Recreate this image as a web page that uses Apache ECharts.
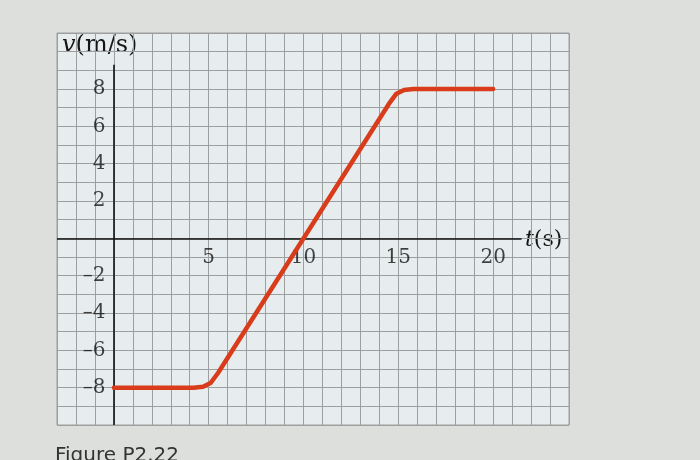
<!DOCTYPE html>
<html>
<head>
<meta charset="utf-8">
<script src="https://cdn.jsdelivr.net/npm/echarts@6/dist/echarts.min.js"></script>
<style>
html,body{margin:0;padding:0;background:#dcdfdc;}
#abc{width:700px;height:460px;}
</style>
</head>
<body>
<div id="abc"></div>
<script>
// t (s) and v (m/s)
var tData = [0, 4.2, 4.7, 5.1, 5.5, 14.5, 14.9, 15.3, 15.8, 20];
var vData = [-8, -8, -7.95, -7.75, -7.2, 7.2, 7.75, 7.95, 8, 8];
var xTickLabels = [5, 10, 15, 20];
var yTickLabels = [-8, -6, -4, -2, 2, 4, 6, 8];
// visible extent of the drawn axes
var xAxisEnd = 21.5;
var yAxisTop = 9.3;

function setQxChart(){
	var pts = [];
	for(var i = 0 ; i < tData.length ; i++){
		pts.push([tData[i], vData[i]]);
	}
	var xLab = [];
	for(var i = 0 ; i < xTickLabels.length ; i++){
		xLab.push([xTickLabels[i], 0]);
	}
	var yLab = [];
	for(var i = 0 ; i < yTickLabels.length ; i++){
		yLab.push([0, yTickLabels[i]]);
	}
	var serif = 'DejaVu Serif';
	var txt = '#151515';
	var gridCol = '#9c9f9e';
	var myChart = echarts.init(document.getElementById('abc'));
	var option = {
		backgroundColor : '#dcdfdc',
		animation : false,
		grid : {
			left : 57,
			right : 131,
			top : 33,
			bottom : 35,
			show : true,
			backgroundColor : '#e7edee',
			borderColor : gridCol,
			borderWidth : 1
		},
		xAxis : {
			type : 'value',
			min : -3,
			max : 24,
			interval : 1,
			axisLine : { show : false },
			axisTick : { show : false },
			axisLabel : { show : false },
			splitLine : { show : true, lineStyle : { color : gridCol, width : 1 } }
		},
		yAxis : {
			type : 'value',
			min : -10,
			max : 11,
			interval : 1,
			axisLine : { show : false },
			axisTick : { show : false },
			axisLabel : { show : false },
			splitLine : { show : true, lineStyle : { color : gridCol, width : 1 } }
		},
		series : [ {
			type : 'line',
			data : pts,
			symbol : 'none',
			lineStyle : { color : '#d83c1a', width : 4.5, join : 'round', cap : 'round' },
			z : 5,
			markLine : {
				silent : true,
				symbol : 'none',
				label : { show : false },
				lineStyle : { color : '#111', width : 1.6, type : 'solid' },
				data : [
					[ { coord : [-3, 0] }, { coord : [xAxisEnd, 0] } ],
					[ { coord : [0, -10] }, { coord : [0, yAxisTop] } ]
				]
			}
		}, {
			type : 'scatter',
			data : xLab,
			symbolSize : 1,
			itemStyle : { color : 'rgba(0,0,0,0)' },
			silent : true,
			label : {
				show : true,
				position : 'bottom',
				distance : 9,
				fontFamily : serif,
				fontSize : 20,
				color : txt,
				formatter : function(p){ return String(p.value[0]); }
			}
		}, {
			type : 'scatter',
			data : yLab,
			symbolSize : 1,
			itemStyle : { color : 'rgba(0,0,0,0)' },
			silent : true,
			label : {
				show : true,
				position : 'left',
				distance : 8,
				fontFamily : serif,
				fontSize : 20,
				color : txt,
				formatter : function(p){
					var v = p.value[1];
					return v < 0 ? '\u2013' + Math.abs(v) : String(v);
				}
			}
		} ],
		graphic : [ {
			type : 'text',
			left : 62,
			top : 34,
			style : {
				text : '{i|v}{n|(m/s)}',
				fill : txt,
				rich : {
					i : { fontStyle : 'italic', fontFamily : serif, fontSize : 24, fill : txt },
					n : { fontStyle : 'normal', fontFamily : serif, fontSize : 24, fill : txt }
				}
			}
		}, {
			type : 'text',
			left : 525,
			top : 229,
			style : {
				text : '{i|t}{n|(s)}',
				fill : txt,
				rich : {
					i : { fontStyle : 'italic', fontFamily : serif, fontSize : 22, fill : txt },
					n : { fontStyle : 'normal', fontFamily : serif, fontSize : 22, fill : txt }
				}
			}
		}, {
			type : 'text',
			left : 55,
			top : 446,
			style : {
				text : 'Figure P2.22',
				font : '20px "DejaVu Sans"',
				fill : '#333'
			}
		} ]
	};
	myChart.setOption(option);
}
setQxChart();
</script>
</body>
</html>
